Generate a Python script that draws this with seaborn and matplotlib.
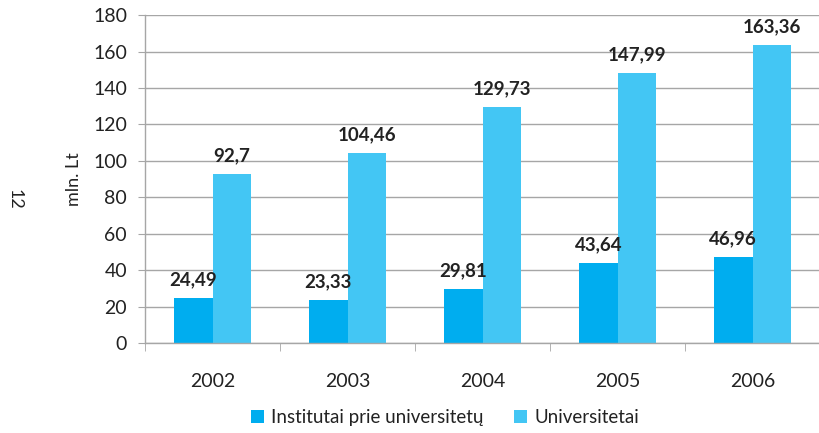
import matplotlib
matplotlib.use("Agg")
import matplotlib.pyplot as plt
import seaborn as sns
import pandas as pd
import numpy as np
from matplotlib.ticker import FixedLocator, NullFormatter

years = ["2002", "2003", "2004", "2005", "2006"]
institutai = [24.49, 23.33, 29.81, 43.64, 46.96]
universitetai = [92.7, 104.46, 129.73, 147.99, 163.36]
series_names = ["Institutai prie universitetų", "Universitetai"]
colors = ["#00adef", "#43c6f4"]

df = pd.DataFrame({
    "year": years * 2,
    "value": institutai + universitetai,
    "series": [series_names[0]] * len(years) + [series_names[1]] * len(years),
})

sns.set_style("white")
plt.rcParams['font.family'] = ['Lato', 'DejaVu Sans']

fig = plt.figure(figsize=(8.2, 4.33), dpi=100)
ax = fig.add_axes([0.177, 0.208, 0.823, 0.757])

sns.barplot(data=df, x="year", y="value", hue="series", palette=colors,
            width=0.57, saturation=1, linewidth=0, ax=ax, legend=True)

ax.set_ylim(0, 180)
ax.set_xlim(-0.5, len(years) - 0.5)
ax.set_yticks(np.arange(0, 181, 20))
ax.yaxis.grid(True, color="#a6a6a6", linewidth=1.0)
ax.set_axisbelow(True)
for s in ["top", "right"]:
    ax.spines[s].set_visible(False)
for s in ["left", "bottom"]:
    ax.spines[s].set_color("#a6a6a6")
    ax.spines[s].set_linewidth(1.0)

ax.tick_params(axis="y", length=5, color="#a6a6a6", labelsize=14, labelcolor="#222222", pad=8, left=True)
ax.tick_params(axis="x", length=0, labelsize=14, labelcolor="#222222", pad=22)
ax.xaxis.set_minor_locator(FixedLocator(np.arange(-0.5, len(years), 1.0)))
ax.xaxis.set_minor_formatter(NullFormatter())
ax.tick_params(axis="x", which="minor", length=6, color="#a6a6a6", bottom=True)

ax.set_xlabel("")
ax.set_ylabel("mln. Lt", fontsize=13, color="#222222", labelpad=8)

for cont in ax.containers:
    labels = [f"{v:g}".replace(".", ",") for v in cont.datavalues]
    ax.bar_label(cont, labels=labels, padding=7, fontsize=13.5, fontweight="bold", color="#222222")

leg = ax.legend(loc="center", bbox_to_anchor=(0.444, -0.229), ncol=2, frameon=False,
                fontsize=13.5, handlelength=0.7, handleheight=0.7, handletextpad=0.4,
                columnspacing=1.6)
for t in leg.get_texts():
    t.set_color("#222222")

fig.text(0.018, 0.54, "12", rotation=270, fontsize=13, color="#222222", ha="center", va="center")

fig.savefig("out.png", dpi=100)
